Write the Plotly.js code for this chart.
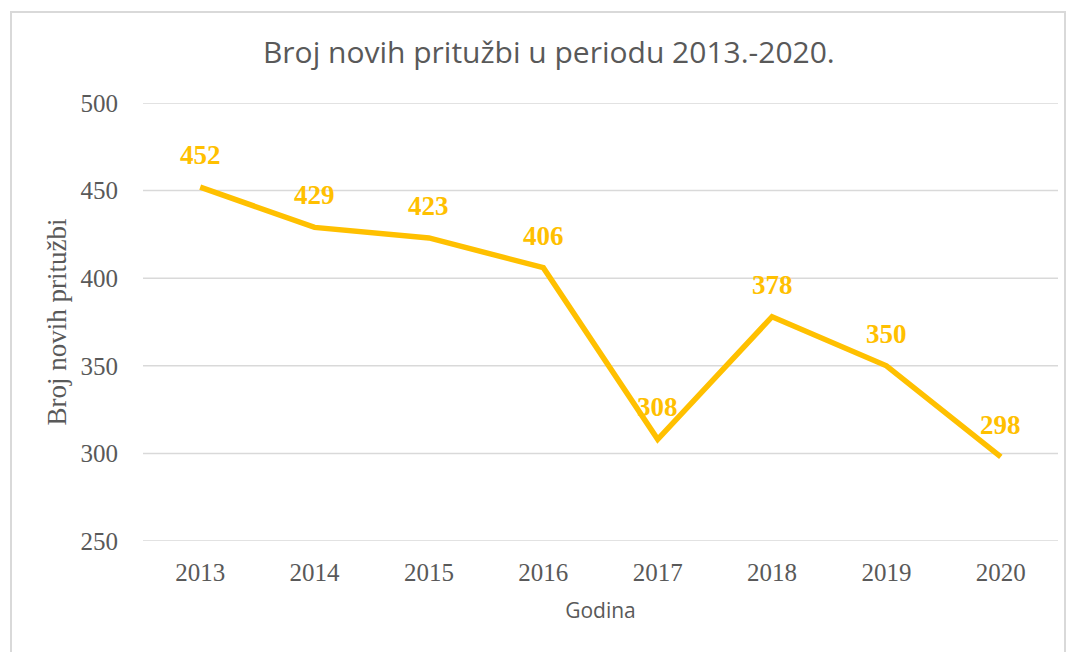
<!DOCTYPE html>
<html>
<head>
<meta charset="utf-8">
<script src="https://cdn.plot.ly/plotly-3.0.1.min.js"></script>
<style>
html,body{margin:0;padding:0;background:#fff;}
#wrap{position:relative;width:1072px;height:652px;}
#chart{position:absolute;left:0;top:0;width:1072px;height:652px;}
#frame{position:absolute;left:10px;top:11px;width:1056px;height:650px;border:2px solid #d9d9d9;pointer-events:none;box-sizing:border-box;}
</style>
</head>
<body>
<div id="wrap">
<div id="chart"></div>
<div id="frame"></div>
</div>
<script>
const years = ['2013','2014','2015','2016','2017','2018','2019','2020'];
const complaints = [452, 429, 423, 406, 308, 378, 350, 298];
const yTicks = [250, 300, 350, 400, 450, 500];

const lineColor = '#FFC000';
const textGrey = '#595959';
const gridColor = '#d9d9d9';

const trace = {
  x: years,
  y: complaints,
  type: 'scatter',
  mode: 'lines',
  line: {color: lineColor, width: 5.5},
  hoverinfo: 'x+y'
};

const annotations = complaints.map((v, i) => ({
  x: i,
  y: v,
  xref: 'x',
  yref: 'y',
  text: '<b>' + v + '</b>',
  showarrow: false,
  yanchor: 'middle',
  xanchor: 'center',
  yshift: 32,
  font: {family: 'Liberation Serif, serif', size: 27, color: lineColor}
}));

const gridShapes = yTicks.map(t => ({
  type: 'line',
  xref: 'paper', yref: 'y',
  x0: 0, x1: 1, y0: t, y1: t,
  line: {color: gridColor, width: 1.5},
  layer: 'below'
}));

const layout = {
  width: 1072,
  height: 652,
  margin: {l: 143, r: 14, t: 103, b: 111},
  paper_bgcolor: '#ffffff',
  plot_bgcolor: '#ffffff',
  showlegend: false,
  title: {
    text: 'Broj novih pritužbi u periodu 2013.-2020.',
    font: {family: 'Open Sans, sans-serif', size: 30, color: textGrey},
    x: 0.512, xanchor: 'center',
    y: 0.92, yanchor: 'middle', yref: 'container'
  },
  xaxis: {
    type: 'category',
    range: [-0.5, 7.5],
    showgrid: false,
    zeroline: false,
    showline: false,
    ticks: '',
    ticklabelstandoff: 14,
    tickfont: {family: 'Liberation Serif, serif', size: 25, color: textGrey},
    title: {
      text: 'Godina',
      font: {family: 'Open Sans, sans-serif', size: 21, color: textGrey},
      standoff: 18
    },
    fixedrange: true
  },
  yaxis: {
    range: [250, 500],
    tickvals: yTicks,
    ticktext: yTicks.map(String),
    showgrid: false,
    zeroline: false,
    showline: false,
    ticks: '',
    ticklabelstandoff: 24,
    tickfont: {family: 'Liberation Serif, serif', size: 25, color: textGrey},
    title: {
      text: 'Broj novih pritužbi',
      font: {family: 'Liberation Serif, serif', size: 27, color: textGrey},
      standoff: 6
    },
    fixedrange: true
  },
  shapes: gridShapes,
  annotations: annotations
};

Plotly.newPlot('chart', [trace], layout, {displayModeBar: false});
</script>
</body>
</html>
